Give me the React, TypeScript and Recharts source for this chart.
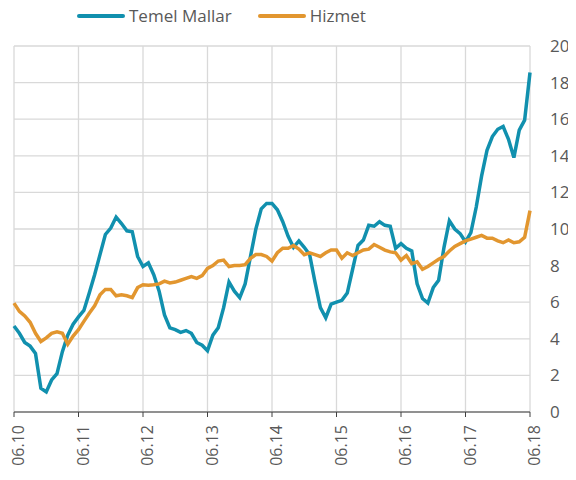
import { CartesianGrid, Line, LineChart, XAxis, YAxis } from "recharts";

// monthly, 06.10 … 06.18
const months: string[] = [];
for (let i = 0; i <= 96; i++) {
  const m = ((5 + i) % 12) + 1;
  const y = 10 + Math.floor((5 + i) / 12);
  months.push(`${String(m).padStart(2, "0")}.${y}`);
}

const temelMallar = [
  4.7, 4.3, 3.8, 3.6, 3.2, 1.3, 1.1, 1.75, 2.1, 3.3, 4.2, 4.8,
  5.2, 5.55, 6.5, 7.5, 8.6, 9.7, 10.05, 10.65, 10.3, 9.9, 9.85, 8.5,
  7.95, 8.15, 7.5, 6.6, 5.3, 4.6, 4.5, 4.35, 4.45, 4.3, 3.8, 3.65,
  3.35, 4.2, 4.6, 5.7, 7.1, 6.6, 6.25, 7.0, 8.5, 10.0, 11.1, 11.4,
  11.4, 11.05, 10.4, 9.6, 9.0, 9.35, 9.0, 8.6, 7.1, 5.7, 5.15, 5.9,
  6.0, 6.1, 6.5, 7.8, 9.1, 9.4, 10.2, 10.15, 10.4, 10.2, 10.15, 8.95,
  9.2, 8.95, 8.8, 7.0, 6.2, 5.95, 6.8, 7.2, 9.0, 10.45, 10.0, 9.75,
  9.3, 9.8, 11.2, 12.9, 14.3, 15.05, 15.45, 15.6, 14.9, 13.9, 15.4, 15.95,
  18.55,
];

const hizmet = [
  5.95, 5.5, 5.25, 4.9, 4.3, 3.85, 4.05, 4.3, 4.38, 4.3, 3.7, 4.15,
  4.5, 4.95, 5.4, 5.8, 6.4, 6.7, 6.7, 6.35, 6.4, 6.35, 6.25, 6.8,
  6.95, 6.93, 6.95, 7.0, 7.15, 7.05, 7.1, 7.2, 7.3, 7.4, 7.3, 7.45,
  7.85, 8.0, 8.25, 8.3, 7.95, 8.0, 8.0, 8.05, 8.4, 8.6, 8.6, 8.5,
  8.25, 8.7, 8.95, 8.95, 9.1, 8.9, 8.6, 8.7, 8.6, 8.5, 8.7, 8.85,
  8.85, 8.4, 8.7, 8.55, 8.7, 8.85, 8.9, 9.15, 9.0, 8.85, 8.75, 8.7,
  8.3, 8.55, 8.1, 8.2, 7.8, 7.95, 8.15, 8.35, 8.5, 8.8, 9.05, 9.2,
  9.35, 9.45, 9.55, 9.65, 9.5, 9.5, 9.35, 9.25, 9.4, 9.25, 9.3, 9.55,
  11.0,
];

const yTicks = [0, 2, 4, 6, 8, 10, 12, 14, 16, 18, 20];

const data = months.map((m, i) => ({
  m,
  temel: temelMallar[i],
  hizmet: hizmet[i],
}));

const BLUE = "#1190ae";
const ORANGE = "#e2962f";
const TEXT = "#595959";

function XTick(props: any) {
  const { x, y, payload } = props;
  const tx = x + 4;
  const ty = y + 6;
  return (
    <text
      x={tx}
      y={ty}
      transform={`rotate(-90, ${tx}, ${ty})`}
      textAnchor="end"
      dominantBaseline="central"
      fill={TEXT}
      fontSize={16}
    >
      {payload.value}
    </text>
  );
}

function LegendItem({ color, label }: { color: string; label: string }) {
  return (
    <div style={{ display: "flex", alignItems: "center" }}>
      <div style={{ width: 48, height: 4, borderRadius: 2, background: color, marginRight: 4 }} />
      <span>{label}</span>
    </div>
  );
}

export default function App() {
  return (
    <div
      style={{
        position: "relative",
        width: 568,
        height: 472,
        fontFamily: "'Open Sans', sans-serif",
      }}
    >
      <div
        style={{
          position: "absolute",
          top: -4,
          left: 69,
          display: "flex",
          gap: 26,
          fontSize: 17,
          color: TEXT,
        }}
      >
        <LegendItem color={BLUE} label="Temel Mallar" />
        <LegendItem color={ORANGE} label="Hizmet" />
      </div>
      <LineChart
        width={568}
        height={472}
        data={data}
        margin={{ top: 38, right: 6, left: 6, bottom: 8 }}
      >
        <CartesianGrid stroke="#d9d9d9" strokeWidth={1.3} />
        <XAxis
          dataKey="m"
          interval={11}
          tickSize={5}
          height={60}
          axisLine={{ stroke: "#404040" }}
          tickLine={{ stroke: "#404040" }}
          tick={<XTick />}
        />
        <YAxis
          orientation="right"
          width={40}
          domain={[0, 20]}
          ticks={yTicks}
          axisLine={false}
          tickLine={false}
          tickMargin={14}
          tick={{ fill: TEXT, fontSize: 17 }}
        />
        <Line
          type="linear"
          dataKey="temel"
          stroke={BLUE}
          strokeWidth={3.5}
          dot={false}
          isAnimationActive={false}
        />
        <Line
          type="linear"
          dataKey="hizmet"
          stroke={ORANGE}
          strokeWidth={3.5}
          dot={false}
          isAnimationActive={false}
        />
      </LineChart>
    </div>
  );
}
